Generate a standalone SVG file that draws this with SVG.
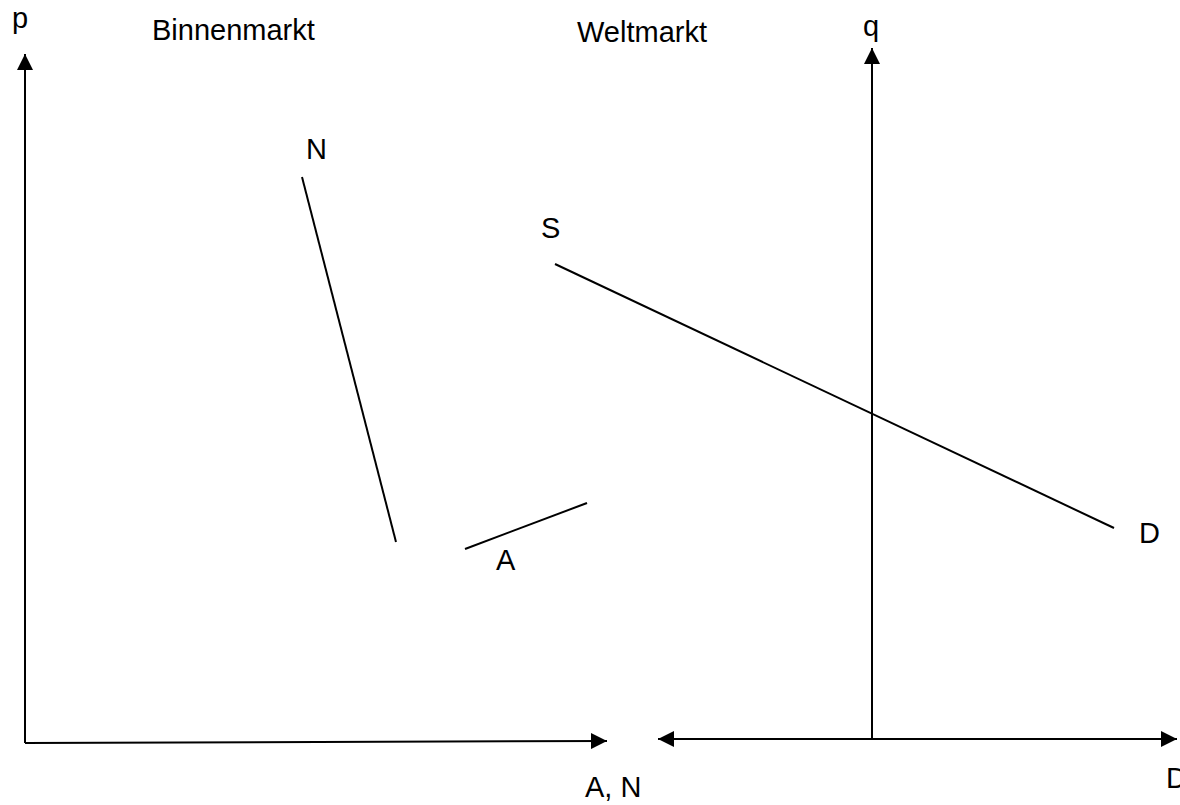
<svg xmlns="http://www.w3.org/2000/svg" width="1180" height="805" viewBox="0 0 1180 805">
<style>
text{font-family:"Liberation Sans",Arial,sans-serif;font-size:29px;fill:#000}
.ax{stroke:#000;stroke-width:2;fill:none}
.cv{stroke:#000;stroke-width:2;fill:none}
</style>
<defs>
<marker id="ah" markerUnits="userSpaceOnUse" markerWidth="16" markerHeight="16" viewBox="0 0 16 16" refX="16" refY="8" orient="auto-start-reverse">
<path d="M0,0 L16,8 L0,16 Z" fill="#000"/>
</marker>
</defs>
<rect width="1180" height="805" fill="#fff"/>
<g id="connectors">
<line class="ax" x1="25" y1="743" x2="25" y2="54" marker-end="url(#ah)"/>
<line class="ax" x1="25" y1="743" x2="607" y2="741" marker-end="url(#ah)"/>
<line class="ax" x1="658" y1="739" x2="1177" y2="739" marker-start="url(#ah)" marker-end="url(#ah)"/>
<line class="ax" x1="872" y1="739" x2="872" y2="48" marker-end="url(#ah)"/>
</g>
<g id="curve-N"><line class="cv" x1="302" y1="177" x2="396" y2="542"/></g>
<g id="curve-A"><line class="cv" x1="465" y1="549" x2="587" y2="503"/></g>
<g id="curve-SD"><line class="cv" x1="555" y1="264" x2="1114" y2="528"/></g>
<g id="labels">
<text x="12" y="28">p</text>
<text x="152" y="40">Binnenmarkt</text>
<text x="577" y="42">Weltmarkt</text>
<text x="863" y="36">q</text>
<text x="306" y="159">N</text>
<text x="541" y="238">S</text>
<text x="1139" y="543">D</text>
<text x="496" y="570">A</text>
<text x="585" y="797">A, N</text>
<text x="1166" y="788">D</text>
</g>
</svg>
